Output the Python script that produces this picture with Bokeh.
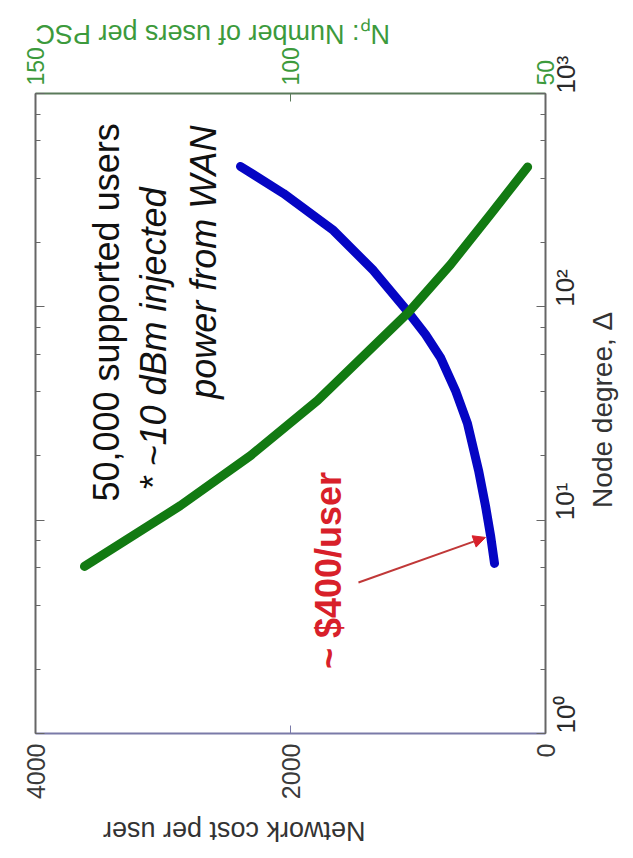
import math
from bokeh.plotting import figure
from bokeh.models import (Range1d, LinearAxis, LogAxis, FixedTicker, LogTicker,
                          Label, Arrow, NormalHead, CustomJSTickFormatter)
from bokeh.embed import file_html
from bokeh.resources import INLINE

# ---------------- data ----------------
degree_cost = [6.27, 8.48, 11.7, 17.1, 28.4, 40.5, 57.9, 74.2, 94.1, 148, 228, 340, 455]
cost_per_user = [400, 431, 471, 525, 612, 706, 824, 941, 1075, 1349, 1663, 2055, 2392]
degree_np = [6.07, 11.7, 20.1, 36.4, 94.1, 158, 271, 452]
users_per_psc = [140.4, 121.6, 107.8, 94.7, 76.9, 68.6, 60.8, 53.5]
cost_ticks = [0, 2000, 4000]
np_ticks = [50, 100, 150]

# annotation anchors (cost value, node degree)
note1_pos = (3443, 94.1)
note2_pos = (3075, 70.7)
note3_pos = (2683, 162)
note4_pos = (1700, 5.81)
arrow_start = (1467, 5.1)
arrow_end = (471, 8.3)

FONT = "Liberation Sans"
BLUE = "#0505c4"
GREEN = "#127a12"
RED = "#d8202a"
NBSP = "\u00a0"

p = figure(frame_width=510, frame_height=640,
           x_range=Range1d(4000, 0), y_range=Range1d(1, 1000),
           y_axis_type="log", y_axis_location="right",
           output_backend="svg", toolbar_location=None,
           min_border_left=35, min_border_top=93,
           min_border_right=85, min_border_bottom=115)
p.extra_x_ranges = {"np": Range1d(150, 50)}
p.grid.visible = False
p.outline_line_color = None
p.background_fill_color = "white"
p.border_fill_color = "white"


def orient_label(axis, angle, align):
    try:
        axis.axis_label_orientation = angle
    except AttributeError:
        pass
    try:
        axis.axis_label_align = align
    except (AttributeError, ValueError):
        pass


# bottom axis: network cost per user
bx = p.xaxis[0]
bx.ticker = FixedTicker(ticks=cost_ticks)
bx.major_label_orientation = math.pi / 2
bx.major_label_text_font = FONT
bx.major_label_text_font_size = "25px"
bx.major_label_text_color = "#3a3a3a"
bx.major_label_standoff = 10
bx.axis_line_color = "#7a7aa8"
bx.axis_line_width = 2
bx.major_tick_line_color = "#7a7aa8"
bx.major_tick_in = 8
bx.major_tick_out = 0
bx.minor_tick_line_color = None
bx.axis_label = "Network cost per user" + NBSP * 9
bx.axis_label_text_font = FONT
bx.axis_label_text_font_size = "27px"
bx.axis_label_text_font_style = "normal"
bx.axis_label_text_color = "#333333"
bx.axis_label_standoff = 29
orient_label(bx, math.pi, "end")

# right axis: node degree (log)
sup_code = """
const sup = {"0":"\u2070","1":"\u00b9","2":"\u00b2","3":"\u00b3","4":"\u2074","-":"\u207b"};
const e = Math.round(Math.log10(tick));
return "10" + String(e).split("").map(c => sup[c]).join("");
"""
ry = p.yaxis[0]
ry.ticker = LogTicker(desired_num_ticks=4)
ry.formatter = CustomJSTickFormatter(code=sup_code)
ry.major_label_orientation = math.pi / 2
ry.major_label_text_font = FONT
ry.major_label_text_font_size = "26px"
ry.major_label_text_color = "#2a2a2a"
ry.major_label_standoff = 20
ry.axis_line_color = "#666666"
ry.axis_line_width = 2
ry.major_tick_line_color = "#666666"
ry.minor_tick_line_color = "#666666"
ry.major_tick_in = 9
ry.major_tick_out = 0
ry.minor_tick_in = 5
ry.minor_tick_out = 0
ry.axis_label = NBSP * 29 + "Node degree, \u0394"
ry.axis_label_text_font = FONT
ry.axis_label_text_font_size = "28px"
ry.axis_label_text_font_style = "normal"
ry.axis_label_text_color = "#333333"
ry.axis_label_standoff = 4
orient_label(ry, math.pi / 2, "start")

# top axis: users per PSC
tx = LinearAxis(x_range_name="np", ticker=FixedTicker(ticks=np_ticks))
tx.major_label_orientation = math.pi / 2
tx.major_label_text_font = FONT
tx.major_label_text_font_size = "23px"
tx.major_label_text_color = "#3c9a3c"
tx.major_label_standoff = 8
tx.axis_line_color = "#5a7a5a"
tx.axis_line_width = 2
tx.major_tick_line_color = "#5a7a5a"
tx.major_tick_in = 8
tx.major_tick_out = 0
tx.minor_tick_line_color = None
tx.axis_label = "N\u209a: Number of users per PSC"
tx.axis_label_text_font = FONT
tx.axis_label_text_font_size = "27px"
tx.axis_label_text_font_style = "normal"
tx.axis_label_text_color = "#3c9a3c"
tx.axis_label_standoff = 10
orient_label(tx, -math.pi, "end")
p.add_layout(tx, "above")

# left axis: mirrored log ticks, no labels
ly = LogAxis(ticker=LogTicker(desired_num_ticks=4),
             formatter=CustomJSTickFormatter(code="return ' ';"))
ly.major_label_text_font_size = "8px"
ly.major_label_text_color = None
ly.major_label_standoff = 0
ly.axis_line_color = "#666666"
ly.axis_line_width = 2
ly.major_tick_line_color = "#666666"
ly.minor_tick_line_color = "#666666"
ly.major_tick_in = 9
ly.major_tick_out = 0
ly.minor_tick_in = 5
ly.minor_tick_out = 0
p.add_layout(ly, "left")

# curves
p.line(cost_per_user, degree_cost, line_color=BLUE, line_width=9,
       line_cap="round", line_join="round")
p.line(users_per_psc, degree_np, x_range_name="np", line_color=GREEN, line_width=9,
       line_cap="round", line_join="round")


# annotations
def add_label(pos, text, size, color, style="normal", angle=math.pi / 2,
              align="center", baseline="alphabetic"):
    lab = Label(x=pos[0], y=pos[1], text=text, angle=angle,
                text_font=FONT, text_font_size=size, text_color=color,
                text_font_style=style, text_align=align, text_baseline=baseline)
    p.add_layout(lab)


add_label(note1_pos, "50,000 supported users", "36px", "#111111")
add_label(note2_pos, "* ~10 dBm injected", "36px", "#111111", style="italic")
add_label(note3_pos, "power from WAN", "36px", "#111111", style="italic")
add_label(note4_pos, "~ $400/user", "36px", RED, style="bold")

p.add_layout(Arrow(end=NormalHead(size=12, fill_color=RED, line_color=RED),
                   x_start=arrow_start[0], y_start=arrow_start[1],
                   x_end=arrow_end[0], y_end=arrow_end[1],
                   line_color="#c03838", line_width=2))

open("out.html", "w").write(file_html(p, INLINE))
